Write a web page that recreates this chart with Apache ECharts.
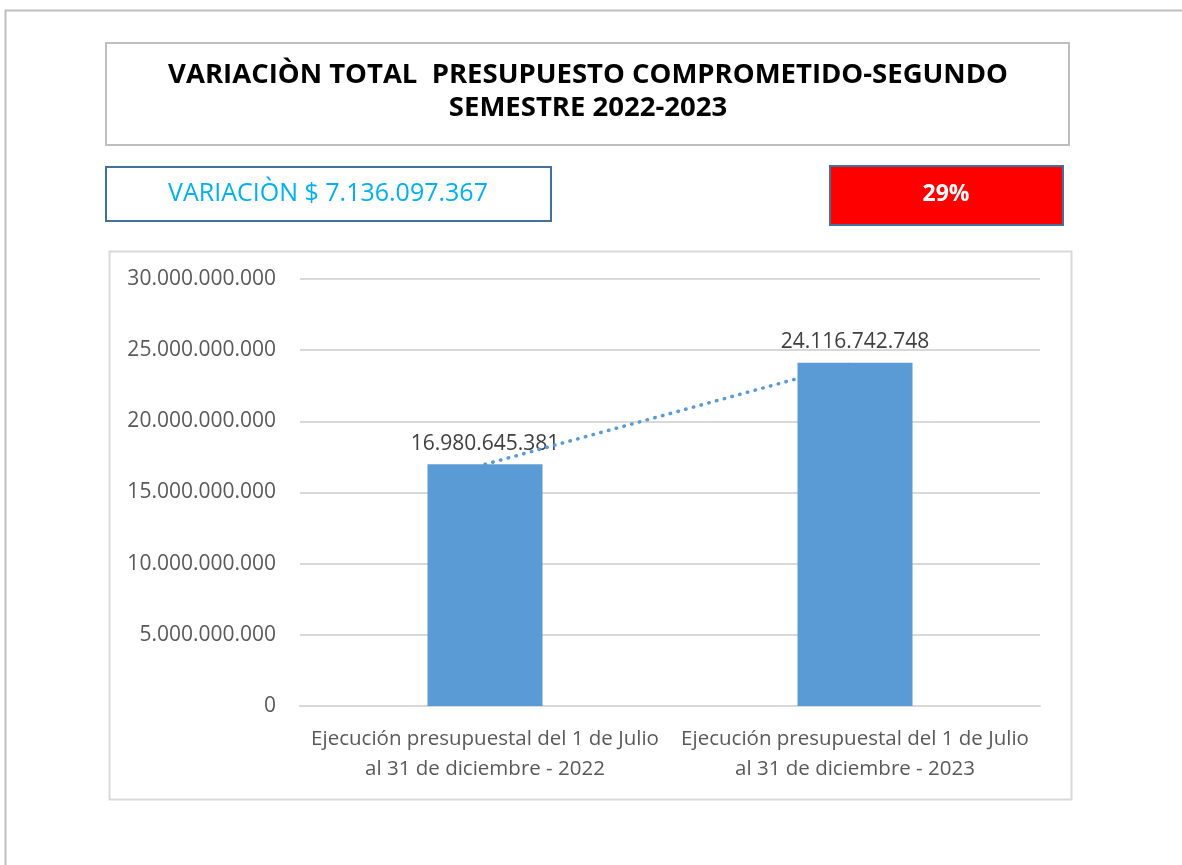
<!DOCTYPE html>
<html>
<head>
<meta charset="utf-8">
<script src="https://cdn.jsdelivr.net/npm/echarts@6/dist/echarts.min.js"></script>
<style>
  html, body { margin: 0; padding: 0; background: #fff; }
  #main { width: 1182px; height: 865px; }
</style>
</head>
<body>
<div id="main"></div>
<script>
const categories = [
  "Ejecución presupuestal del 1 de Julio\nal 31 de diciembre - 2022",
  "Ejecución presupuestal del 1 de Julio\nal 31 de diciembre - 2023"
];
const budgetValues = [16980645381, 24116742748];
const titleLines = ["VARIACIÒN TOTAL  PRESUPUESTO COMPROMETIDO-SEGUNDO", "SEMESTRE 2022-2023"];
const variationText = "VARIACIÒN $ 7.136.097.367";
const percentText = "29%";

const font = "'Open Sans', 'Liberation Sans', sans-serif";

// 30.000.000.000 style with dots
const fmt = (v) => Math.round(v).toString().replace(/\B(?=(\d{3})+(?!\d))/g, ".");

const chart = echarts.init(document.getElementById("main"));

const option = {
  animation: false,
  backgroundColor: "#fff",
  textStyle: { fontFamily: font },
  grid: { left: 300, right: 142, top: 279, bottom: 159 },
  graphic: [
    // outer frame (goes past right/bottom edge)
    { type: "rect", left: 3, top: 8, shape: { width: 1300, height: 1000 },
      style: { fill: "none", stroke: "#bfbfbf", lineWidth: 2 }, z: -10 },
    // title box
    { type: "rect", left: 105, top: 42, shape: { width: 963, height: 102 },
      style: { fill: "#fff", stroke: "#bfbfbf", lineWidth: 2 } },
    { type: "text", x: 588, y: 92,
      style: { text: titleLines.join("\n"), fill: "#000", font: "bold 27.5px " + font,
        align: "center", verticalAlign: "middle", lineHeight: 33 } },
    // variation box
    { type: "rect", left: 105, top: 166, shape: { width: 445, height: 54 },
      style: { fill: "#fff", stroke: "#41719c", lineWidth: 2 } },
    { type: "text", x: 328, y: 194,
      style: { text: variationText, fill: "#00b0f0", font: "25px " + font,
        align: "center", verticalAlign: "middle" } },
    // percent box
    { type: "rect", left: 829, top: 165, shape: { width: 233, height: 59 },
      style: { fill: "#ff0000", stroke: "#41719c", lineWidth: 2 } },
    { type: "text", x: 946, y: 194,
      style: { text: percentText, fill: "#fff", font: "bold 23px " + font,
        align: "center", verticalAlign: "middle" } },
    // chart area border
    { type: "rect", left: 107, top: 249, shape: { width: 962, height: 548 },
      style: { fill: "none", stroke: "#d9d9d9", lineWidth: 2 } }
  ],
  xAxis: {
    type: "category",
    data: categories,
    axisLine: { show: true, lineStyle: { color: "#d9d9d9", width: 2 } },
    axisTick: { show: false },
    axisLabel: { color: "#595959", fontSize: 20.5, lineHeight: 30, margin: 18, interval: 0 }
  },
  yAxis: {
    type: "value",
    min: 0,
    max: 30000000000,
    interval: 5000000000,
    axisLine: { show: false },
    axisTick: { show: false },
    splitLine: { lineStyle: { color: "#d9d9d9", width: 2 } },
    axisLabel: { color: "#595959", fontSize: 21, margin: 24, formatter: (v) => fmt(v) }
  },
  series: [
    {
      type: "bar",
      data: budgetValues,
      barWidth: 115,
      itemStyle: { color: "#5b9bd5" },
      label: {
        show: true, position: "top", distance: 10,
        color: "#404040", fontSize: 21, fontFamily: font,
        formatter: (p) => fmt(p.value)
      },
      z: 2
    },
    {
      // linear trend line
      type: "line",
      data: budgetValues,
      showSymbol: false,
      silent: true,
      lineStyle: { color: "#5b9bd5", width: 3.5, type: [0.5, 7.5], cap: "round" },
      z: 3
    }
  ]
};

chart.setOption(option);
</script>
</body>
</html>
